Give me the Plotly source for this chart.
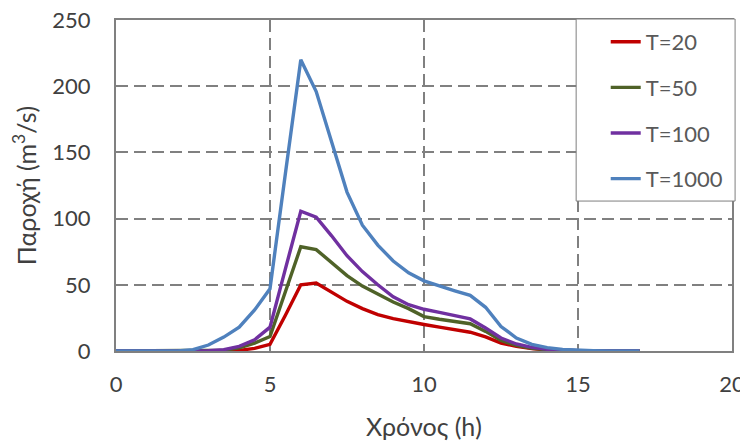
import plotly.graph_objects as go

time_h = [i * 0.5 for i in range(35)]  # 0 .. 17 h

q_t20 = [0, 0, 0, 0, 0, 0, 0, 0.1, 0.5, 2, 5, 27, 50, 51.4, 44.5, 37.5, 32, 27.5,
         24.5, 22, 20, 18, 16.2, 14.2, 10.6, 6, 3.5, 1.8, 0.8, 0.3, 0.1, 0, 0, 0, 0]
q_t50 = [0, 0, 0, 0, 0, 0, 0.1, 0.6, 2.3, 6, 11, 45, 78.7, 76.6, 67, 57, 49, 43,
         37, 32, 26, 24, 22.4, 20.6, 14.8, 8, 4.2, 2, 1, 0.4, 0.15, 0.05, 0, 0, 0]
q_t100 = [0, 0, 0, 0, 0, 0, 0.2, 1, 3.5, 8.5, 18, 62, 105.6, 101, 87, 72, 60, 50,
          41, 35, 31.5, 29.2, 27, 24.2, 17.4, 9.8, 5.3, 2.7, 1.3, 0.5, 0.2, 0.1, 0, 0, 0]
q_t1000 = [0, 0, 0, 0, 0, 1, 4.5, 10.5, 18, 31, 47, 134, 220, 196, 158, 120, 95, 80,
           68, 59, 53, 49, 45.5, 42, 33, 18.5, 9.8, 5, 2.5, 1.2, 0.6, 0.3, 0.1, 0, 0]

series_names = ["T=20", "T=50", "T=100", "T=1000"]
series_values = [q_t20, q_t50, q_t100, q_t1000]
series_colors = ["#C00000", "#4F6228", "#7030A0", "#4F81BD"]

x_ticks = [0, 5, 10, 15, 20]
y_ticks = [0, 50, 100, 150, 200, 250]

FONT = "Lato, 'Open Sans', sans-serif"
GRID = "#808080"

fig = go.Figure()
for name, vals, col in zip(series_names, series_values, series_colors):
    fig.add_trace(go.Scatter(
        x=time_h, y=vals, name=name, mode="lines", legendgroup=name,
        line=dict(color=col, width=3.4),
    ))

# legend frame
fig.add_shape(type="rect", xref="paper", yref="paper",
              x0=0.747, x1=1.005, y0=0.453, y1=1.003,
              fillcolor="white", line=dict(color="#7F7F7F", width=1), layer="above")

fig.update_layout(
    width=740, height=439,
    margin=dict(l=108, r=16, t=12, b=96),
    paper_bgcolor="white", plot_bgcolor="white",
    font=dict(family=FONT, color="#404040", size=20),
    showlegend=True,
    legend=dict(
        x=0.795, y=0.997, xanchor="left", yanchor="top",
        bgcolor="rgba(0,0,0,0)", borderwidth=0,
        font=dict(family=FONT, size=22, color="#595959"),
        tracegroupgap=14,
    ),
    xaxis=dict(
        range=[0, 20], tickvals=x_ticks, showgrid=True, automargin=False,
        gridcolor=GRID, gridwidth=2, griddash="12px,6px",
        showline=True, linecolor=GRID, linewidth=2, mirror=True,
        zeroline=False, ticks="", ticklabelstandoff=13, ticklabeloverflow="allow",
        tickfont=dict(size=22, color="#404040"),
        title=dict(text="Χρόνος (h)", font=dict(size=25, color="#404040"), standoff=22),
    ),
    yaxis=dict(
        range=[0, 250], tickvals=y_ticks, showgrid=True, automargin=False,
        gridcolor=GRID, gridwidth=2, griddash="12px,6px",
        showline=True, linecolor=GRID, linewidth=2, mirror=True,
        zeroline=False, ticks="", ticklabelstandoff=19, ticklabeloverflow="allow",
        tickfont=dict(size=22, color="#404040"),
        title=dict(text="Παροχή (m<sup>3</sup>/s)", font=dict(size=25, color="#404040"), standoff=18),
    ),
)

fig.write_html("out.html")
